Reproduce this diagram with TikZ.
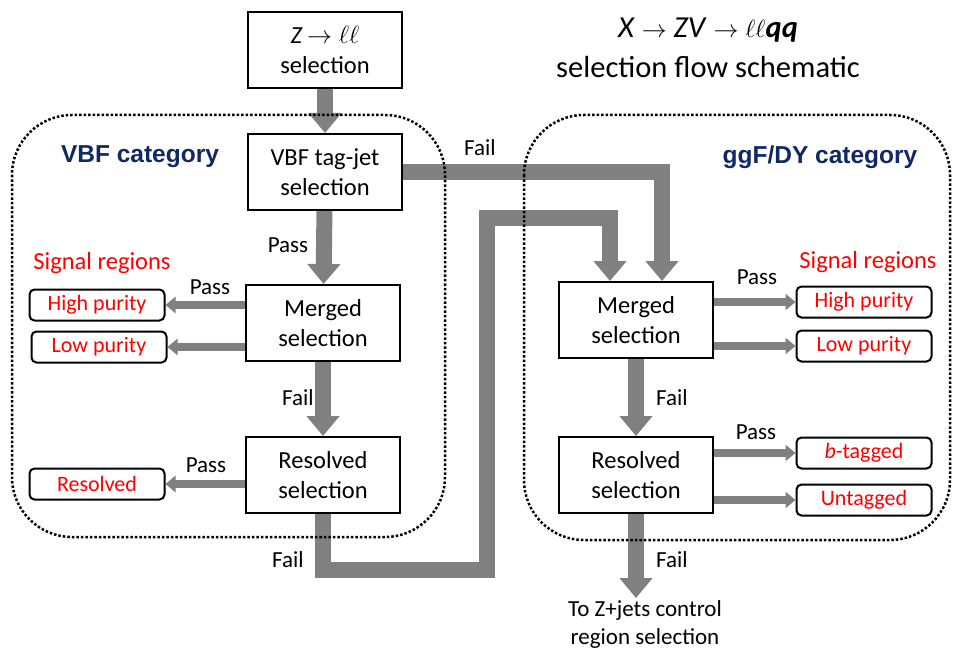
\documentclass[tikz,border=0pt]{standalone}
\usepackage{fontspec}
\setmainfont{Carlito}
\newfontfamily\arialfont{Liberation Sans}
\usetikzlibrary{arrows.meta}
\definecolor{flowgray}{RGB}{128,128,128}
\definecolor{catblue}{RGB}{16,40,100}

\begin{document}
\begin{tikzpicture}[x=1pt,y=-1pt,
    selbox/.style={draw, line width=2pt, fill=white, minimum width=154pt, minimum height=76pt, align=center, font=\fontsize{24.5}{30}\selectfont},
    srbox/.style={draw, line width=2pt, rounded corners=5pt, minimum width=135pt, minimum height=31pt, inner sep=0pt, text=red, font=\fontsize{22}{24}\selectfont},
    bigarrow/.style={flowgray, line width=16pt, line join=miter, -{Triangle[width=32pt,length=20pt]}},
    smallarrow/.style={flowgray, line width=8pt, -{Triangle[width=16pt,length=10pt]}},
    lbl/.style={font=\fontsize{23}{26}\selectfont},
    catlbl/.style={text=catblue, font=\arialfont\bfseries\fontsize{24.5}{28}\selectfont},
    region/.style={dotted, line width=2.5pt, rounded corners=60pt}]

    \useasboundingbox (0,0) rectangle (954,650);

    % selection boxes
    \node[selbox] (zll) at (325,50) {\textit{Z}\,$\rightarrow\ell\ell$\\selection};
    \node[selbox] (vbf) at (325,172) {VBF tag-jet\\selection};
    \node[selbox] (mergedL) at (323,323) {Merged\\selection};
    \node[selbox] (resolvedL) at (323,475) {Resolved\\selection};
    \node[selbox] (mergedR) at (636,320) {Merged\\selection};
    \node[selbox] (resolvedR) at (636,475) {Resolved\\selection};

    % signal regions
    \node[srbox] (hpL) at (97,305) {High purity};
    \node[srbox] (lpL) at (99,347) {Low purity};
    \node[srbox] (resL) at (97,484) {Resolved};
    \node[srbox] (hpR) at (864,302) {High purity};
    \node[srbox] (lpR) at (864,346) {Low purity};
    \node[srbox] (btag) at (864,453) {\textit{b}-tagged};
    \node[srbox] (untag) at (864,500) {Untagged};

    \coordinate (c1) at (487,570);
    \coordinate (c2) at (487,218);
    \coordinate (out) at (636,598);

    % flow
    \draw[bigarrow] (zll) -- (vbf);
    \draw[bigarrow] (vbf) -- (mergedL);
    \draw[bigarrow] (mergedL) -- (resolvedL);
    \draw[bigarrow] (vbf.east) -| ([xshift=26pt]mergedR.north);
    \draw[bigarrow] (resolvedL.south) |- (c1) -- (c2) -| ([xshift=-26pt]mergedR.north);
    \draw[bigarrow] (mergedR) -- (resolvedR);
    \draw[bigarrow] (resolvedR) -- (out);

    \draw[smallarrow] (mergedL.west |- hpL) -- (hpL);
    \draw[smallarrow] (mergedL.west |- lpL) -- (lpL);
    \draw[smallarrow] (resolvedL.west |- resL) -- (resL);
    \draw[smallarrow] (mergedR.east |- hpR) -- (hpR);
    \draw[smallarrow] (mergedR.east |- lpR) -- (lpR);
    \draw[smallarrow] (resolvedR.east |- btag) -- (btag);
    \draw[smallarrow] (resolvedR.east |- untag) -- (untag);

    % categories
    \draw[region] (12,115) rectangle (445,537);
    \draw[region] (524,115) rectangle (950,540);

    \node[lbl] at (288,245) {Pass};
    \node[lbl] at (298,398) {Fail};
    \node[lbl] at (480,148) {Fail};
    \node[lbl] at (288,560) {Fail};
    \node[lbl] at (210,287) {Pass};
    \node[lbl] at (206,465) {Pass};
    \node[lbl] at (757,277) {Pass};
    \node[lbl] at (756,432) {Pass};
    \node[lbl] at (672,398) {Fail};
    \node[lbl] at (672,560) {Fail};
    \node[lbl, align=center, font=\fontsize{23}{28}\selectfont] at (645,624) {To Z+jets control\\region selection};

    \node[text=red, font=\fontsize{24.5}{28}\selectfont] at (102,263) {Signal regions};
    \node[text=red, font=\fontsize{24.5}{28}\selectfont] at (868,262) {Signal regions};
    \node[catlbl] at (140,157) {VBF category};
    \node[catlbl] at (820,157) {ggF/DY category};

    \node[font=\fontsize{30.5}{34}\selectfont] at (708,30) {\textit{X} $\rightarrow$ \textit{ZV} $\rightarrow$ $\ell\ell$\textbf{\textit{qq}}};
    \node[font=\fontsize{30.5}{34}\selectfont] at (708,67) {selection flow schematic};

\end{tikzpicture}
\end{document}
